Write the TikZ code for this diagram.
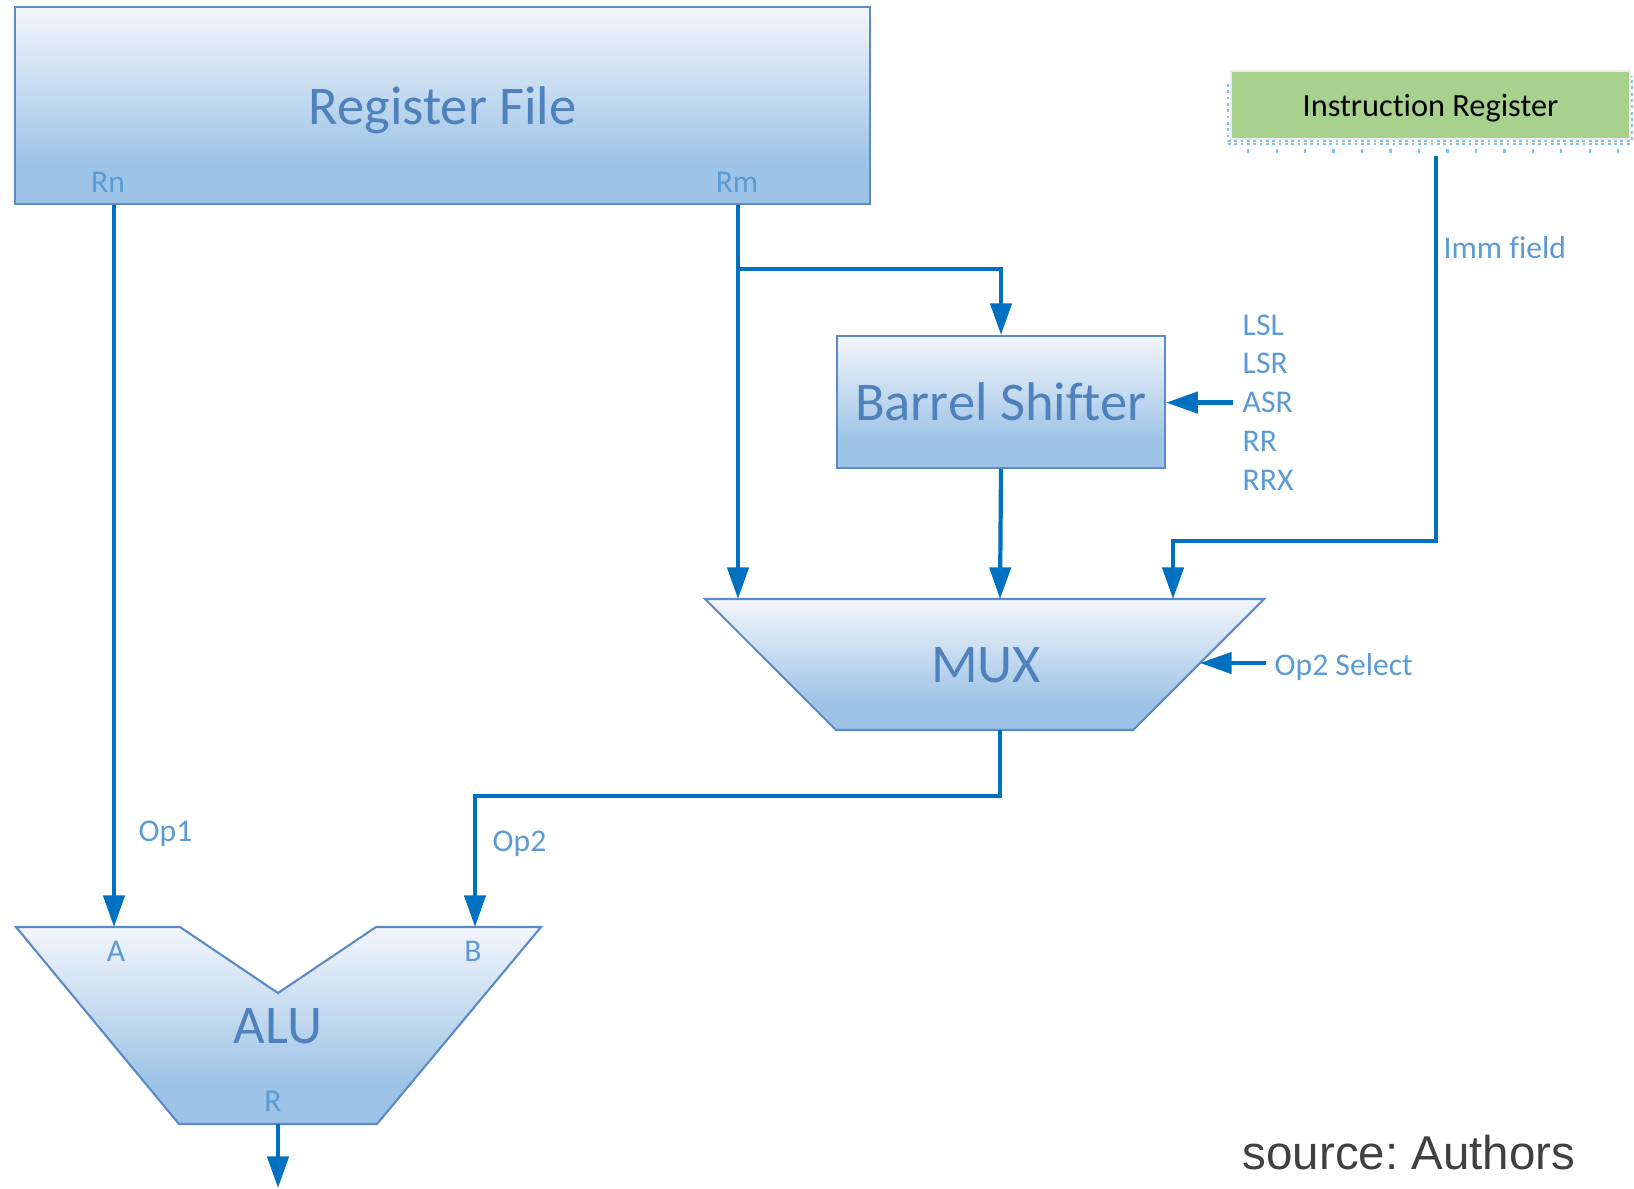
\documentclass[tikz,border=0pt]{standalone}
\usepackage{fontspec}
\setmainfont{Carlito}[Ligatures=CommonOff]
\newfontfamily\credfont{Liberation Sans}
\usetikzlibrary{arrows.meta}

\definecolor{boxtop}{HTML}{F3F6FB}
\definecolor{boxbot}{HTML}{9DC3E6}
\definecolor{boxedge}{HTML}{5B8AC6}
\definecolor{wire}{HTML}{0070C0}
\definecolor{bigtxt}{HTML}{4F81BD}
\definecolor{smalltxt}{HTML}{5B9BD5}
\definecolor{irgreen}{HTML}{A9D18E}
\definecolor{selblue}{HTML}{7FC4EA}

% light at the top, flat darker band at the bottom
\pgfdeclareverticalshading{office}{100bp}{color(0bp)=(boxbot); color(35bp)=(boxbot); color(75bp)=(boxtop); color(100bp)=(boxtop)}

\tikzset{
  unit/.style={shade, shading=office, draw=boxedge, line width=0.6pt},
  bigname/.style={text=bigtxt, font=\fontsize{15.5}{18}\selectfont},
  port/.style={text=smalltxt, font=\fontsize{9}{11}\selectfont, inner sep=0pt},
  bus/.style={draw=wire, line width=1.2pt, -{Triangle[length=9pt,width=6pt]}},
}

\begin{document}
\begin{tikzpicture}[x=0.01cm, y=-0.01cm]
  \useasboundingbox (0,0) rectangle (1634,1188);

  % register file with its two read ports
  \node[unit, bigname, text depth=0pt, minimum width=8.55cm, minimum height=1.97cm] (rf) at (442.5,105.5) {Register File};
  \node[port] (rnlbl) at (108,182) {Rn};
  \node[port] (rmlbl) at (737,182) {Rm};

  % instruction register (with its dotted selection frame)
  \node[draw=white!85!gray, fill=irgreen, minimum width=3.99cm, minimum height=0.68cm, text depth=0pt,
        text=black, font=\fontsize{9.2}{11}\selectfont] (ir) at (1430.5,105) {Instruction Register};
  \draw[selblue, densely dotted, line width=0.8pt] (1228,84) -- (1228,141) -- (1632,141) -- (1632,76);
  \draw[selblue, densely dotted, line width=0.8pt] (1228,144) -- (1632,144);
  \draw[selblue, line width=1.2pt, dash pattern=on 0.6pt off 7.5pt] (1247,151) -- (1632,151);

  % barrel shifter and its shift ops
  \node[unit, bigname, minimum width=3.28cm, minimum height=1.32cm] (bs) at (1001,402) {Barrel Shifter};
  \foreach \op [count=\i] in {LSL,LSR,ASR,RR,RRX}
    \node[port, anchor=west] (op\i) at (1242,286.2+38.8*\i) {\op};

  % MUX
  \path[unit] (705,599) -- (1264,599) -- (1133,730) -- (836,730) -- cycle;
  \node[bigname] (mux) at (986,665) {MUX};
  \coordinate (muxa) at (738,599);
  \coordinate (muxb) at (1000,599);
  \coordinate (muxc) at (1173,599);
  \coordinate (muxsel) at (1200,663);
  \coordinate (muxout) at (1000,730);

  % ALU
  \path[unit] (16,927) -- (180,927) -- (278,993) -- (376,927) -- (541,927)
    -- (377,1124) -- (179,1124) -- cycle;
  \node[bigname] (alu) at (278,1026) {ALU};
  \node[port] (alua) at (116,951) {A};
  \node[port] (alub) at (473,951) {B};
  \node[port] (alur) at (273,1101) {R};
  \coordinate (aluA) at (114,927);
  \coordinate (aluB) at (475,927);
  \coordinate (aluR) at (278,1124);
  \coordinate (aluout) at (278,1188);

  % wires
  \draw[bus] (rf.south -| aluA) -- (aluA);
  \node[port, anchor=west] (op1) at (138,834) {Op1};

  \coordinate (rmsplit) at (738,269);
  \draw[bus] (rf.south -| muxa) -- (muxa);
  \draw[bus] (rmsplit) -| (bs.north);
  \draw[bus] (bs.south) -- (muxb);

  \coordinate (immtop) at (1436,156);
  \draw[bus] (immtop) -- (immtop |- 0,541) -| (muxc);
  \node[port, anchor=west] (imm) at (1443,248) {Imm field};

  \draw[bus] ([xshift=-0.09cm]op3.west) -- (op3.west -| bs.east);

  \node[port, anchor=west] (sel) at (1274,667) {Op2 Select};
  \draw[bus] ([xshift=-0.08cm]sel.west |- muxsel) -- (muxsel);

  \draw[bus] (muxout) -- (muxout |- 0,796) -| (aluB);
  \node[port, anchor=west] (op2) at (492,844) {Op2};

  \draw[bus] (aluR) -- (aluout);

  \node[text=black!75, font=\credfont\frenchspacing\fontsize{13.5}{16}\selectfont, inner sep=0pt, anchor=west] (src) at (1242,1153) {source: Authors};
\end{tikzpicture}
\end{document}
